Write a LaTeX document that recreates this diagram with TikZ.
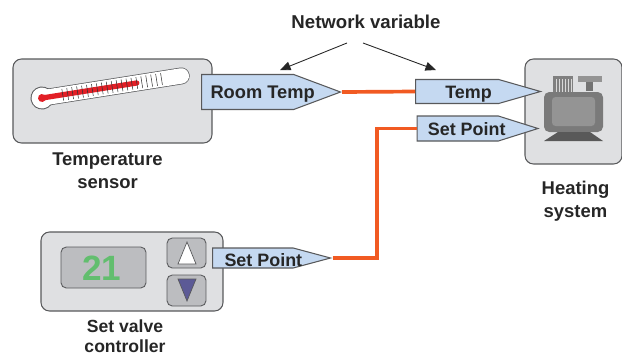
\documentclass[tikz,border=0pt]{standalone}
\usepackage{fontspec}
\setmainfont{Liberation Sans}
\usetikzlibrary{shapes.symbols, arrows.meta, positioning}
\definecolor{devicegray}{HTML}{DFE0E2}
\definecolor{panelgray}{HTML}{BCBDC0}
\definecolor{edgegray}{HTML}{58595B}
\definecolor{portblue}{HTML}{C5D9F1}
\definecolor{wireorange}{HTML}{F15A22}
\definecolor{digitgreen}{HTML}{62BE6E}
\definecolor{keypurple}{HTML}{5C5A96}
\definecolor{mercuryred}{HTML}{E21F26}
\begin{document}
\begin{tikzpicture}[
    x=0.02cm,
    y=-0.02cm,
    device/.style={rectangle, rounded corners=8pt*0.6, draw=edgegray, fill=devicegray, line width=0.6pt},
    panel/.style={rectangle, rounded corners=3pt, draw=edgegray, fill=panelgray, line width=0.5pt},
    port/.style={signal, signal to=east, draw=edgegray, fill=portblue, line width=0.6pt, inner sep=0pt, anchor=west},
    caption/.style={align=center, font=\bfseries\fontsize{10.5}{12.8}\selectfont, text=black!85},
    portlabel/.style={font=\bfseries\fontsize{#1}{12}\selectfont, text=black!85},
    wire/.style={wireorange, line width=2.1pt},
    arrow/.style={-{Triangle[length=6pt, width=5pt]}, line width=0.5pt, black!85}
]
    \useasboundingbox (0,0) rectangle (622,356);

    % devices
    \node[device, minimum width=3.98cm, minimum height=1.68cm] (sensor) at (112.5,101) {};
    \node[device, minimum width=1.94cm, minimum height=2.1cm] (heater) at (573.5,111.5) {};
    \node[device, minimum width=3.64cm, minimum height=1.58cm] (controller) at (132,271.5) {};

    % thermometer
    \begin{scope}[shift={(42,98)}, rotate=9]
        \draw[line width=9.6pt, edgegray, line cap=round] (0,0) -- (141,0);
        \fill[edgegray] (0,0) circle (11.5);
        \fill[white] (0,0) circle (10.5);
        \draw[line width=8.8pt, white, line cap=round] (0,0) -- (141,0);
        \draw[mercuryred, line width=3pt, line cap=round] (0,0) -- (96,0);
        \fill[mercuryred] (0,0) circle (4);
        \foreach \tick in {0,1,...,20}
            \draw[black!80, line width=0.3pt] (21+\tick*5,-6) -- (21+\tick*5,6);
    \end{scope}

    % heater picture
    \fill[black!50] (553,76) rectangle (573,92);
    \foreach \rib in {556,559,...,571}
        \draw[white!70!gray, line width=0.3pt] (\rib,79) -- (\rib,92);
    \fill[black!42] (578,76) rectangle (602,82);
    \fill[black!55] (586,82) rectangle (593,91);
    \fill[black!52, rounded corners=3pt] (544,132) -- (544,92) -- (603,92) -- (603,132) -- cycle;
    \fill[black!42, rounded corners=2pt] (552,126) -- (552,97) -- (595,97) -- (595,126) -- cycle;
    \fill[black!65] (558,132) -- (590,132) -- (603,141) -- (544,141) -- cycle;

    % thermostat display and keys
    \node[panel, minimum width=1.7cm, minimum height=0.82cm] (display) at (103.5,267.5) {};
    \node[font=\bfseries\fontsize{20}{21}\selectfont, text=digitgreen] (reading) at (102,268) {21};
    \node[panel, minimum width=0.78cm, minimum height=0.6cm] (upkey) at (186.5,253) {};
    \node[panel, minimum width=0.78cm, minimum height=0.62cm] (downkey) at (186.5,290.5) {};
    \draw[edgegray, fill=white, line width=0.4pt] (178,264) -- (187,242) -- (196,264) -- cycle;
    \draw[edgegray, fill=keypurple, line width=0.4pt] (178,279) -- (187,301) -- (196,279) -- cycle;

    % network variables
    \node[port, minimum width=2.78cm, minimum height=0.7cm, signal pointer angle=41, label={[portlabel=10.4, xshift=0.3cm, yshift=-1pt]center:Room Temp}] (roomtemp) at (201,92) {};
    \node[port, minimum width=2.5cm, minimum height=0.48cm, signal pointer angle=32, label={[portlabel=10.2, xshift=0.23cm, yshift=-1.5pt]center:Temp}] (temp) at (415,91.5) {};
    \node[port, minimum width=2.42cm, minimum height=0.5cm, signal pointer angle=35, label={[portlabel=10.2, xshift=0.18cm, yshift=-0.5pt]center:Set Point}] (setpoint) at (416.5,128.5) {};
    \node[port, minimum width=2.36cm, minimum height=0.4cm, signal pointer angle=30, label={[portlabel=10.2, xshift=0.21cm, yshift=-1pt]center:Set Point}] (valvepoint) at (212,258) {};

    \draw[wire] (roomtemp.east) -- (temp.west);
    \draw[wire] (valvepoint.east) -- (377,258) |- (setpoint.west);

    % captions
    \node[caption, below=2pt of sensor, xshift=-0.1cm] (sensorname) {Temperature\\sensor};
    \node[caption, below=6pt of heater, xshift=0.04cm] (heatername) {Heating\\system};
    \node[caption, font=\bfseries\fontsize{10}{11.4}\selectfont, below=1pt of controller, xshift=-0.14cm] (controllername) {Set valve\\controller};
    \node[caption, font=\bfseries\fontsize{10.6}{12}\selectfont] (network) at (366,22) {Network variable};

    \coordinate (leftfrom) at (347,43);
    \coordinate (leftto) at (280,70);
    \coordinate (rightfrom) at (363,43);
    \coordinate (rightto) at (436,70);
    \draw[arrow] (leftfrom) -- (leftto);
    \draw[arrow] (rightfrom) -- (rightto);
\end{tikzpicture}
\end{document}
